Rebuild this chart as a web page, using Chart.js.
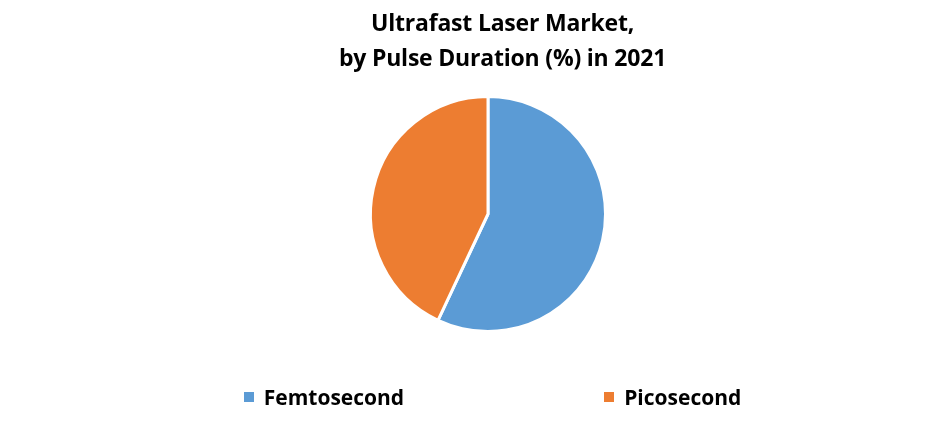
<!DOCTYPE html>
<html>
<head>
<meta charset="utf-8">
<script src="https://cdn.jsdelivr.net/npm/chart.js@4/dist/chart.umd.min.js"></script>
<style>
  html, body { margin: 0; padding: 0; background: #fff; }
  .wrap { position: relative; width: 941px; height: 430px; overflow: hidden; }
  .js-title {
    position: absolute; left: 32px; top: 5px; width: 941px;
    text-align: center; font: bold 23px "Open Sans", sans-serif;
    line-height: 35px; color: #000; letter-spacing: -0.2px;
  }
  .js-legend {
    position: absolute; left: 22px; top: 383px; width: 941px;
    display: flex; justify-content: center; gap: 200px;
    font: bold 21px "Open Sans", sans-serif; color: #000;
  }
  .js-legend span.item { display: flex; align-items: center; }
  .js-legend span.box { width: 10px; height: 10px; margin-right: 10px; display: inline-block; }
</style>
</head>
<body>
<div class="wrap">
  <canvas class="js-pie" width="941" height="430"></canvas>
  <div class="js-title">Ultrafast Laser Market,<br>by Pulse Duration (%) in 2021</div>
  <div class="js-legend"></div>
</div>
<script>
const labels = ["Femtosecond", "Picosecond"];
const shares = [57, 43];
const colors = ["#5B9BD5", "#ED7D31"];

const drawLegend = () => {
  const legendHTML = document.querySelector(".js-legend");
  legendHTML.innerHTML = labels
    .map((label, i) => `<span class="item"><span class="box" style="background:${colors[i]}"></span>${label}</span>`)
    .join("");
};

const drawPie = () => {
  const chartHTML = document.querySelector(".js-pie");
  const chart = chartHTML.getContext("2d");
  chartHTML.graph = new Chart(chart, {
    type: "pie",
    data: {
      labels: labels,
      datasets: [
        {
          data: shares,
          backgroundColor: colors,
          borderColor: "#fff",
          borderWidth: 3,
        },
      ],
    },
    options: {
      responsive: false,
      animation: false,
      layout: {
        padding: { top: 95, bottom: 97, left: 35, right: 0 },
      },
      plugins: {
        legend: { display: false },
        tooltip: { enabled: false },
      },
    },
  });
};

drawLegend();
drawPie();
</script>
</body>
</html>
